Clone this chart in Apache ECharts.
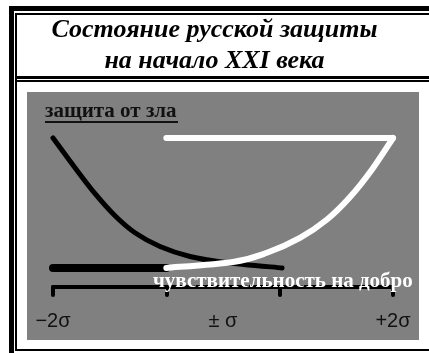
<!DOCTYPE html>
<html>
<head>
<meta charset="utf-8">
<script src="https://cdn.jsdelivr.net/npm/echarts@6/dist/echarts.min.js"></script>
<style>
html,body{margin:0;padding:0;background:#fff;}
#chart{width:429px;height:353px;}
</style>
</head>
<body>
<div id="chart"></div>
<script>
// x in tick steps (0 = −2σ, 3 = +2σ); y in arbitrary level units (0..10)
const tickLabels = ['\u22122\u03c3', '\u00b1 \u03c3', '+2\u03c3'];
const titleLines = ['Состояние русской защиты', 'на начало XXI века'];
const evilLabel = 'защита от зла';
const goodLabel = 'чувствительность на добро';

const evilX = [0, 0.194, 0.371, 0.547, 0.723, 0.944, 1.209, 1.518, 2.021];
const evilY = [10, 8.0, 6.26, 4.78, 3.64, 2.72, 2.05, 1.65, 1.28];

const baseX = [0, 1];
const baseY = [1.28, 1.28];

const goodX = [1.0, 1.588, 1.888, 2.179, 2.418, 2.621, 2.815, 3.0];
const goodY = [1.28, 1.68, 2.30, 3.30, 4.53, 6.04, 7.89, 10];

const topX = [1, 3];
const topY = [10, 10];

const zip = (xs, ys) => xs.map((x, i) => [x, ys[i]]);

// Smooth curve through the data points, positioned by the chart's own axes
function curveSeries(xs, ys, color, width, z) {
  return {
    type: 'custom',
    xAxisIndex: 0, yAxisIndex: 0,
    data: zip(xs, ys),
    encode: {x: 0, y: 1},
    z: z,
    silent: true,
    renderItem: (params, api) => {
      if (params.dataIndex !== 0) return null;
      const pts = xs.map((x, i) => api.coord([x, ys[i]]));
      const n = pts.length;
      let d = 'M' + pts[0][0] + ' ' + pts[0][1];
      for (let i = 0; i < n - 1; i++) {
        const p0 = pts[Math.max(i - 1, 0)], p1 = pts[i], p2 = pts[i + 1], p3 = pts[Math.min(i + 2, n - 1)];
        const c1x = p1[0] + (p2[0] - p0[0]) / 6, c1y = p1[1] + (p2[1] - p0[1]) / 6;
        const c2x = p2[0] - (p3[0] - p1[0]) / 6, c2y = p2[1] - (p3[1] - p1[1]) / 6;
        d += ' C' + c1x + ' ' + c1y + ' ' + c2x + ' ' + c2y + ' ' + p2[0] + ' ' + p2[1];
      }
      return {
        type: 'path',
        shape: {pathData: d},
        style: {stroke: color, lineWidth: width, fill: null, lineCap: 'round', lineJoin: 'round'}
      };
    }
  };
}

const chart = echarts.init(document.getElementById('chart'), null, {renderer: 'canvas'});
chart.setOption({
  animation: false,
  backgroundColor: '#ffffff',
  title: {
    text: titleLines.join('\n'),
    left: 'center',
    top: 10,
    textStyle: {
      fontFamily: 'Liberation Serif',
      fontWeight: 'bold',
      fontStyle: 'italic',
      fontSize: 26,
      lineHeight: 31,
      color: '#000',
      align: 'center'
    }
  },
  grid: {left: 53, right: 36, top: 138, bottom: 66, containLabel: false},
  xAxis: [
    {
      type: 'value', min: 0, max: 3, interval: 1,
      axisLine: {show: true, lineStyle: {color: '#000', width: 4, cap: 'round'}},
      axisTick: {show: true, length: 8, lineStyle: {color: '#000', width: 4, cap: 'round'}},
      axisLabel: {show: false},
      splitLine: {show: false},
      z: 1
    },
    {
      type: 'value', min: 0, max: 3, interval: 1.5, position: 'bottom', offset: 0,
      axisLine: {show: false},
      axisTick: {show: false},
      splitLine: {show: false},
      axisLabel: {
        show: true, margin: 24, showMinLabel: true, showMaxLabel: true,
        fontFamily: 'Liberation Sans', fontSize: 20, color: '#111',
        formatter: v => tickLabels[Math.round(v / 1.5)]
      }
    }
  ],
  yAxis: {type: 'value', min: 0, max: 10, show: false},
  graphic: [
    {type: 'rect', z: -10, shape: {x: 27, y: 92, width: 392, height: 248}, style: {fill: '#808080'}},
    {type: 'rect', shape: {x: 9, y: 6, width: 5, height: 347}, style: {fill: '#000'}},
    {type: 'rect', shape: {x: 9, y: 6, width: 420, height: 5}, style: {fill: '#000'}},
    {type: 'rect', shape: {x: 15, y: 13, width: 2, height: 338}, style: {fill: '#000'}},
    {type: 'rect', shape: {x: 15, y: 13, width: 414, height: 2}, style: {fill: '#000'}},
    {type: 'rect', shape: {x: 15, y: 349, width: 414, height: 2}, style: {fill: '#000'}},
    {type: 'rect', shape: {x: 15, y: 76, width: 414, height: 3}, style: {fill: '#000'}},
    {type: 'rect', shape: {x: 15, y: 80, width: 414, height: 2}, style: {fill: '#000'}},
    {type: 'text', z: 50, x: 45, y: 101,
      style: {text: evilLabel, font: 'bold 21px "Liberation Serif"', fill: '#111',
        textAlign: 'left', textVerticalAlign: 'top'}},
    {type: 'rect', z: 50, shape: {x: 45, y: 121, width: 133, height: 2}, style: {fill: '#111'}},
    {type: 'text', z: 100, x: 153, y: 271,
      style: {text: goodLabel, font: 'bold 21px "Liberation Serif"', fill: '#fff',
        textAlign: 'left', textVerticalAlign: 'top'}}
  ],
  series: [
    {
      type: 'line', data: zip(baseX, baseY), symbol: 'none', xAxisIndex: 0,
      lineStyle: {color: '#000', width: 8, cap: 'round'}, z: 3
    },
    curveSeries(evilX, evilY, '#000', 5, 4),
    curveSeries(goodX, goodY, '#fff', 6, 5),
    {
      type: 'line', data: zip(topX, topY), symbol: 'none', xAxisIndex: 0,
      lineStyle: {color: '#fff', width: 6, cap: 'round'}, z: 5, clip: false
    }
  ]
});
</script>
</body>
</html>
